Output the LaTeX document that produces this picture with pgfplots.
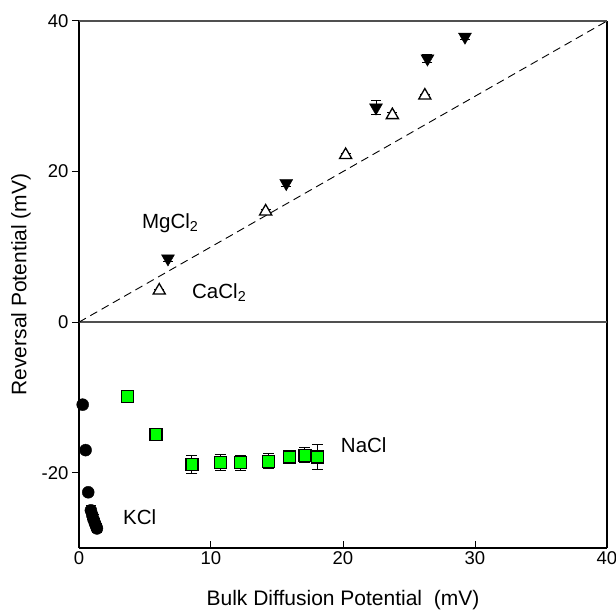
\documentclass[border=0pt]{standalone}
\usepackage{fontspec}
\setmainfont{Liberation Sans}
\usepackage{pgfplots}
\pgfplotsset{compat=1.18}
\definecolor{nagreen}{RGB}{0,255,0}
\definecolor{frame}{RGB}{80,80,80}

% MgCl2: filled down triangles
\pgfplotstableread{
x y e
6.74 8.45 0.35
15.7 18.45 0.4
22.5 28.5 0.9
26.4 35.0 0.5
29.24 37.9 0.3
}\mgcl
% CaCl2: open up triangles
\pgfplotstableread{
x y e
6.08 4.2 0.2
14.14 14.7 0.3
20.2 22.2 0.2
23.74 27.5 0.3
26.2 30.1 0.2
}\cacl
% KCl: filled circles
\pgfplotstableread{
x y e
0.28 -10.96 0.3
0.5 -17.0 0.3
0.7 -22.6 0.3
0.9 -25.0 0.6
1.0 -25.6 0.6
1.1 -26.2 0.6
1.2 -26.7 0.6
1.3 -27.1 0.6
1.36 -27.4 0.6
}\kcl
% NaCl: green squares
\pgfplotstableread{
x y e
3.69 -9.86 0.3
5.83 -14.9 0.3
8.56 -18.9 1.2
10.7 -18.66 1.05
12.25 -18.66 1.0
14.37 -18.5 1.0
15.93 -17.9 0.5
17.12 -17.7 1.0
18.05 -17.9 1.7
}\nacl

\begin{document}
\begin{tikzpicture}
\begin{axis}[
    scale only axis, width=528pt, height=527pt,
    xmin=0, xmax=40, ymin=-30, ymax=40,
    xtick={0,10,20,30,40}, ytick={-20,0,20,40},
    axis x line*=bottom, axis y line*=box,
    xtick pos=bottom, ytick pos=left,
    x tick style={line width=1pt, black}, y tick style={line width=1pt, black},
    xtick align=inside, ytick align=outside,
    major tick length=7pt,
    axis line style={line width=1.2pt, black},
    /pgf/number format/assume math mode=true,
    ticklabel style={font=\fontsize{18.5}{20}\selectfont},
    label style={font=\fontsize{21}{24}\selectfont},
    xlabel={Bulk Diffusion Potential\ \ (mV)},
    ylabel={Reversal Potential (mV)},
    xlabel style={at={(axis description cs:0.5,-0.0987)}, anchor=center},
    ylabel style={at={(axis description cs:-0.1098,0.5)}, anchor=center},
    clip=false,
]
\addplot[frame, line width=1.4pt] coordinates {(0,40) (40,40)};
\addplot[frame, line width=1.4pt] coordinates {(0,0) (40,0)};
\addplot[black, line width=0.9pt, dash pattern=on 8pt off 5pt] coordinates {(0,0) (40,40)};

\addplot[only marks, mark=triangle*, mark size=7.5pt,
    mark options={rotate=180, fill=black, draw=black},
    error bars/.cd, y dir=both, y explicit,
    error bar style={line width=1pt, black},
    error mark options={rotate=90, mark size=5pt, line width=1pt, black}]
    table[x=x, y=y, y error=e] {\mgcl};
\addplot[only marks, mark=triangle*, mark size=7pt,
    mark options={fill=white, draw=black, line width=1.3pt},
    error bars/.cd, y dir=both, y explicit,
    error bar style={line width=1pt, black},
    error mark options={rotate=90, mark size=5pt, line width=1pt, black}]
    table[x=x, y=y, y error=e] {\cacl};
\addplot[only marks, mark=*, mark size=6pt,
    mark options={fill=black, draw=black},
    error bars/.cd, y dir=both, y explicit,
    error bar style={line width=1pt, black},
    error mark options={rotate=90, mark size=5pt, line width=1pt, black}]
    table[x=x, y=y, y error=e] {\kcl};
\addplot[only marks, mark=square*, mark size=6pt,
    mark options={fill=nagreen, draw=black, line width=1.2pt},
    error bars/.cd, y dir=both, y explicit,
    error bar style={line width=1pt, black},
    error mark options={rotate=90, mark size=5.5pt, line width=1pt, black}]
    table[x=x, y=y, y error=e] {\nacl};

\node[anchor=base west, inner sep=0pt, font=\fontsize{20.5}{23}\selectfont] at (axis cs:4.77,12.4) {MgCl\textsubscript{2}};
\node[anchor=base west, inner sep=0pt, font=\fontsize{20.5}{23}\selectfont] at (axis cs:8.56,3.13) {CaCl\textsubscript{2}};
\node[anchor=base west, inner sep=0pt, font=\fontsize{20.5}{23}\selectfont] at (axis cs:3.33,-26.85) {KCl};
\node[anchor=base west, inner sep=0pt, font=\fontsize{20.5}{23}\selectfont] at (axis cs:19.83,-17.25) {NaCl};
\end{axis}
\pgfresetboundingbox
\path[use as bounding box] (-79pt,-63pt) rectangle (537pt,548pt);
\end{tikzpicture}
\end{document}
